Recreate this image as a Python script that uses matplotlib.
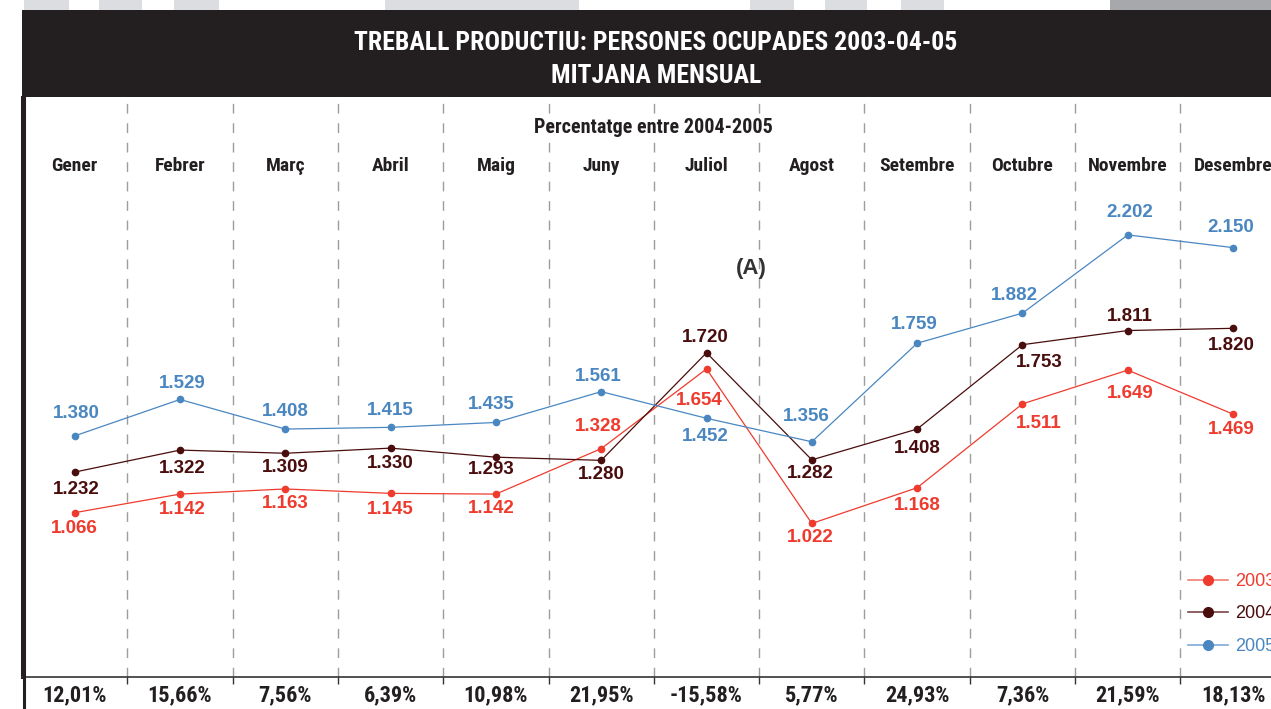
import matplotlib
matplotlib.use("Agg")
import matplotlib.pyplot as plt
from matplotlib.patches import Rectangle
from matplotlib.lines import Line2D

# dades
mesos = ["Gener", "Febrer", "Març", "Abril", "Maig", "Juny", "Juliol",
         "Agost", "Setembre", "Octubre", "Novembre", "Desembre"]
any_2003 = [1066, 1142, 1163, 1145, 1142, 1328, 1654, 1022, 1168, 1511, 1649, 1469]
any_2004 = [1232, 1322, 1309, 1330, 1293, 1280, 1720, 1282, 1408, 1753, 1811, 1820]
any_2005 = [1380, 1529, 1408, 1415, 1435, 1561, 1452, 1356, 1759, 1882, 2202, 2150]
percentatges = ["12,01%", "15,66%", "7,56%", "6,39%", "10,98%", "21,95%",
                "-15,58%", "5,77%", "24,93%", "7,36%", "21,59%", "18,13%"]
anys = ["2003", "2004", "2005"]

# posicio de les etiquetes respecte del punt (pixels)
off_2003 = [(0, -16), (2, -15), (0, -15), (0, -16), (-5, -14), (-3, 22),
            (-7, -32), (-2, -14), (0, -18), (16, -20), (2, -23), (-2, -15)]
off_2004 = [(2, -17), (2, -18), (0, -14), (0, -15), (-5, -12), (0, -14),
            (-1, 15), (-2, -14), (0, -19), (17, -18), (2, 14), (-2, -17)]
off_2005 = [(2, 22), (2, 16), (0, 18), (0, 17), (-5, 18), (-3, 15),
            (-1, -18), (-6, 25), (-3, 19), (-8, 18), (2, 22), (-2, 20)]

vermell = "#ef3b2e"
marro = "#4a0d0d"
blau = "#4a87c1"
colors = [vermell, marro, blau]
colors_clars = ["#f47d72", "#7a4545", "#7eaad4"]

narrow = ["Roboto Condensed", "DejaVu Sans"]
normal = ["Liberation Sans", "DejaVu Sans"]

W, H = 1271, 709
fig = plt.figure(figsize=(W / 100, H / 100), dpi=100)

# franja de dalt
franges = [(24, 69), (99, 142), (174, 219), (385, 579), (750, 794),
           (825, 867), (901, 944)]
for x0, x1 in franges:
    fig.patches.append(Rectangle((x0 / W, 1 - 10 / H), (x1 - x0) / W, 10 / H,
                                 transform=fig.transFigure, color="#dcdde0", lw=0))
fig.patches.append(Rectangle((1110 / W, 1 - 10 / H), (W - 1110) / W, 10 / H,
                             transform=fig.transFigure, color="#a7a8ab", lw=0))
# barra del titol
fig.patches.append(Rectangle((22 / W, 1 - 97 / H), 1, 87 / H,
                             transform=fig.transFigure, color="#231f20", lw=0))
fig.text(656 / W, 1 - 43 / H, "TREBALL PRODUCTIU: PERSONES OCUPADES 2003-04-05",
         color="white", fontsize=18.5, fontweight="bold", family=narrow,
         ha="center", va="center")
fig.text(656 / W, 1 - 76 / H, "MITJANA MENSUAL", color="white", fontsize=18.5,
         fontweight="bold", family=narrow, ha="center", va="center")
# vora esquerra fins a baix
fig.lines.append(Line2D([23.5 / W, 23.5 / W], [0, 1 - 97 / H],
                        transform=fig.transFigure, color="#231f20", lw=2.2))

ax = fig.add_axes([22 / W, (H - 677) / H, (W - 22) / W, 580 / H])
ax.set_xlim(-0.5, 11.36)
ax.set_ylim(394, 2766)

x = list(range(len(mesos)))
for i in range(len(mesos) - 1):
    ax.axvline(i + 0.5, color="#9d9d9d", lw=1, dashes=(7, 7), zorder=0)

series = [any_2003, any_2004, any_2005]
offsets = [off_2003, off_2004, off_2005]
for vals, offs, c in zip(series, offsets, colors):
    ax.plot(x, vals, color=c, lw=0.9, marker="o", ms=4.5, zorder=3)
    for xi, v, (dx, dy) in zip(x, vals, offs):
        txt = f"{v / 1000:.3f}"
        ax.annotate(txt, (xi, v), xytext=(dx, dy), textcoords="offset pixels",
                    ha="center", va="center", color=c, fontsize=13.5,
                    fontweight="bold", family=normal)

# llegenda
handles = [Line2D([], [], color=ca, lw=1.2, marker="o", ms=7, mfc=c, mec=c)
           for c, ca in zip(colors, colors_clars)]
leg = fig.legend(handles, anys, loc="center left",
                 bbox_to_anchor=(1188 / W, 1 - 614 / H),
                 bbox_transform=fig.transFigure, frameon=False,
                 handlelength=2.2, handletextpad=0.4, labelspacing=0.85,
                 borderpad=0, borderaxespad=0,
                 prop={"family": normal, "size": 13})
for t, c in zip(leg.get_texts(), colors):
    t.set_color(c)

# capçaleres i percentatges
tr = ax.get_xaxis_transform()
for xi, m, p in zip(x, mesos, percentatges):
    ax.text(xi, 0.881, m, transform=tr, ha="center", va="center",
            fontsize=14, fontweight="bold", family=narrow, color="#231f20")
    ax.text(xi, -0.031, p, transform=tr, ha="center", va="center",
            fontsize=16, fontweight="bold", family=narrow, color="#231f20",
            clip_on=False)
ax.text(5.5, 0.9466, "Percentatge entre 2004-2005", transform=tr, ha="center",
        va="center", fontsize=14.5, fontweight="bold", family=narrow,
        color="#231f20")
ax.text(6.43, 0.705, "(A)", transform=tr, ha="center", va="center",
        fontsize=16, fontweight="bold", family=normal, color="#333333")

for s in ["top", "right"]:
    ax.spines[s].set_visible(False)
ax.spines["left"].set_linewidth(2.2)
ax.spines["left"].set_color("#231f20")
ax.spines["bottom"].set_linewidth(1.2)
ax.spines["bottom"].set_color("#333333")
ax.set_yticks([])
ax.set_xticks([i + 0.5 for i in range(len(mesos) - 1)])
ax.set_xticklabels([])
ax.tick_params(axis="x", length=5, width=1, color="#333333", direction="out")

fig.savefig("out.png", dpi=100)
